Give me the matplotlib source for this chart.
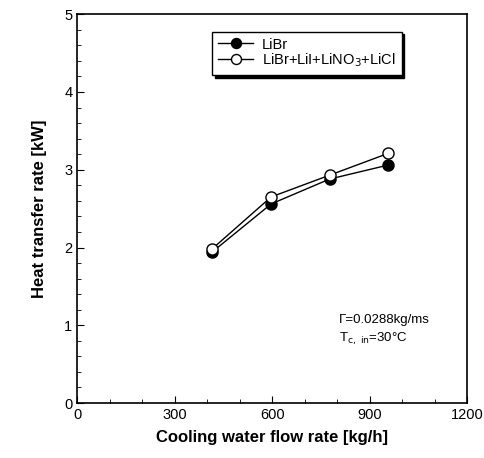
import numpy as np
import matplotlib.pyplot as plt
from matplotlib.ticker import MultipleLocator

plt.rcParams['font.family'] = ['Liberation Sans', 'DejaVu Sans']

# data
flow = [415, 597, 777, 957]
q_libr = [1.94, 2.56, 2.88, 3.06]
q_mix = [1.98, 2.65, 2.93, 3.21]

fig = plt.figure(figsize=(4.85, 4.58), dpi=100)
ax = fig.add_axes([0.159, 0.12, 0.804, 0.849])

ax.plot(flow, q_libr, color='black', lw=1.0, marker='o', ms=8,
        mfc='black', mec='black', label='LiBr')
ax.plot(flow, q_mix, color='black', lw=1.0, marker='o', ms=8,
        mfc='white', mec='black', label='LiBr+LiI+LiNO$_3$+LiCl')

ax.set_xlim(0, 1200)
ax.set_ylim(0, 5)
ax.xaxis.set_major_locator(MultipleLocator(300))
ax.xaxis.set_minor_locator(MultipleLocator(100))
ax.yaxis.set_major_locator(MultipleLocator(1))
ax.yaxis.set_minor_locator(MultipleLocator(0.2))
ax.tick_params(which='both', direction='in', labelsize=10.5)
ax.tick_params(which='major', length=5)
ax.tick_params(which='minor', length=3)
for s in ax.spines.values():
    s.set_linewidth(1.2)

ax.set_xlabel('Cooling water flow rate [kg/h]', fontsize=12, fontweight='bold', labelpad=6)
ax.set_ylabel('Heat transfer rate [kW]', fontsize=12, fontweight='bold', labelpad=12)

# legend box with a hard black drop shadow
leg = ax.legend(loc='upper left', bbox_to_anchor=(0.347, 0.955), borderaxespad=0,
                fontsize=10.5, frameon=True, fancybox=False, edgecolor='black',
                shadow={'ox': 2, 'oy': -2, 'color': 'black', 'alpha': 1.0},
                handlelength=2.4, borderpad=0.4, labelspacing=0.0,
                handletextpad=0.6, markerscale=0.9)
leg.get_frame().set_linewidth(1.0)

ax.text(0.672, 0.205, '\u0393=0.0288kg/ms', transform=ax.transAxes, fontsize=9.5)
ax.text(0.672, 0.158, 'T$_{\\mathrm{c,\\ in}}$=30\u00b0C', transform=ax.transAxes, fontsize=9.5)

fig.savefig('out.png', dpi=100)
